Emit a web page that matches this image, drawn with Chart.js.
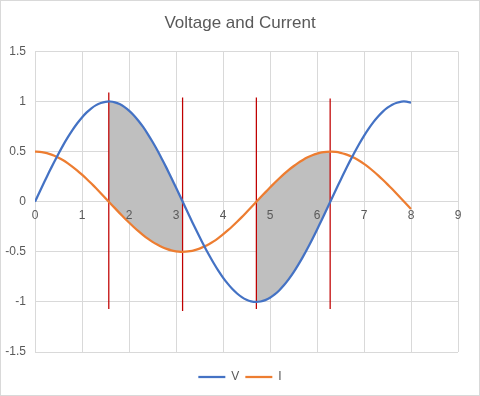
<!DOCTYPE html>
<html>
<head>
<meta charset="utf-8">
<script src="https://cdn.jsdelivr.net/npm/chart.js@4.4.1/dist/chart.umd.min.js"></script>
<style>
  html, body { margin: 0; padding: 0; background: #ffffff; }
  canvas { display: block; }
</style>
</head>
<body>
<canvas id="vcChart" width="480" height="396"></canvas>
<script>
const xValues = [0.0, 0.1, 0.2, 0.3, 0.4, 0.5, 0.6, 0.7, 0.8, 0.9,
    1.0, 1.1, 1.2, 1.3, 1.4, 1.5, 1.6, 1.7, 1.8, 1.9,
    2.0, 2.1, 2.2, 2.3, 2.4, 2.5, 2.6, 2.7, 2.8, 2.9,
    3.0, 3.1, 3.2, 3.3, 3.4, 3.5, 3.6, 3.7, 3.8, 3.9,
    4.0, 4.1, 4.2, 4.3, 4.4, 4.5, 4.6, 4.7, 4.8, 4.9,
    5.0, 5.1, 5.2, 5.3, 5.4, 5.5, 5.6, 5.7, 5.8, 5.9,
    6.0, 6.1, 6.2, 6.3, 6.4, 6.5, 6.6, 6.7, 6.8, 6.9,
    7.0, 7.1, 7.2, 7.3, 7.4, 7.5, 7.6, 7.7, 7.8, 7.9, 8.0];

const voltage = [0.000, 0.100, 0.199, 0.296, 0.389, 0.479, 0.565, 0.644, 0.717, 0.783,
    0.841, 0.891, 0.932, 0.964, 0.985, 0.997, 1.000, 0.992, 0.974, 0.946,
    0.909, 0.863, 0.808, 0.746, 0.675, 0.598, 0.516, 0.427, 0.335, 0.239,
    0.141, 0.042, -0.058, -0.158, -0.256, -0.351, -0.443, -0.530, -0.612, -0.688,
    -0.757, -0.818, -0.872, -0.916, -0.952, -0.978, -0.994, -1.000, -0.996, -0.982,
    -0.959, -0.926, -0.883, -0.832, -0.773, -0.706, -0.631, -0.551, -0.465, -0.374,
    -0.279, -0.182, -0.083, 0.017, 0.117, 0.215, 0.312, 0.405, 0.494, 0.578,
    0.657, 0.729, 0.794, 0.850, 0.899, 0.938, 0.968, 0.988, 0.999, 0.999, 0.989];

const current = [0.500, 0.498, 0.490, 0.478, 0.461, 0.439, 0.413, 0.382, 0.348, 0.311,
    0.270, 0.227, 0.181, 0.134, 0.085, 0.035, -0.015, -0.064, -0.114, -0.162,
    -0.208, -0.252, -0.294, -0.333, -0.369, -0.401, -0.428, -0.452, -0.471, -0.486,
    -0.495, -0.500, -0.499, -0.494, -0.483, -0.468, -0.448, -0.424, -0.396, -0.363,
    -0.327, -0.287, -0.245, -0.200, -0.154, -0.105, -0.056, -0.006, 0.044, 0.093,
    0.142, 0.189, 0.234, 0.277, 0.317, 0.354, 0.388, 0.417, 0.443, 0.464,
    0.480, 0.492, 0.498, 0.500, 0.497, 0.488, 0.475, 0.457, 0.435, 0.408,
    0.377, 0.342, 0.304, 0.263, 0.219, 0.173, 0.126, 0.077, 0.027, -0.023, -0.073];

// red marker lines
const markerX = [1.57, 3.14, 4.71, 6.28];
const markerTop = [1.09, 1.04, 1.04, 1.03];
const markerBottom = [-1.07, -1.09, -1.07, -1.07];

// shaded bands run between pairs of marker lines
const shadeFrom = [1.57, 4.71];
const shadeTo = [3.14, 6.28];
const shadeFromV = [1.00, -1.00];
const shadeFromI = [0.00, 0.00];
const shadeToV = [0.00, 0.00];
const shadeToI = [-0.50, 0.50];

const xTicks = [0, 1, 2, 3, 4, 5, 6, 7, 8, 9];
const yTicks = [-1.5, -1, -0.5, 0, 0.5, 1, 1.5];

const textColor = '#595959';
const gridColor = '#d9d9d9';
const font = 'Liberation Sans, Arial, sans-serif';

function points(xs, ys) {
    return xs.map(function (x, i) { return { x: x, y: ys[i] }; });
}

const datasets = [
    {
        label: 'V',
        data: points(xValues, voltage),
        borderColor: '#4472c4',
        backgroundColor: '#4472c4',
        borderWidth: 2.25,
        pointRadius: 0,
        pointStyle: 'line',
        tension: 0.2,
        fill: false,
        order: 0
    },
    {
        label: 'I',
        data: points(xValues, current),
        borderColor: '#ed7d31',
        backgroundColor: '#ed7d31',
        borderWidth: 2.25,
        pointRadius: 0,
        pointStyle: 'line',
        tension: 0.2,
        fill: false,
        order: 0
    }
];

for (let k = 0; k < shadeFrom.length; k++) {
    const topPts = [{ x: shadeFrom[k], y: shadeFromV[k] }];
    const botPts = [{ x: shadeFrom[k], y: shadeFromI[k] }];
    for (let i = 0; i < xValues.length; i++) {
        if (xValues[i] > shadeFrom[k] && xValues[i] < shadeTo[k]) {
            topPts.push({ x: xValues[i], y: voltage[i] });
            botPts.push({ x: xValues[i], y: current[i] });
        }
    }
    topPts.push({ x: shadeTo[k], y: shadeToV[k] });
    botPts.push({ x: shadeTo[k], y: shadeToI[k] });
    datasets.push({
        label: 'shade',
        data: topPts,
        borderWidth: 0,
        borderColor: 'rgba(0,0,0,0)',
        backgroundColor: '#bfbfbf',
        pointRadius: 0,
        tension: 0.2,
        fill: '+1',
        order: 5
    });
    datasets.push({
        label: 'shade',
        data: botPts,
        borderWidth: 0,
        borderColor: 'rgba(0,0,0,0)',
        pointRadius: 0,
        tension: 0.2,
        fill: false,
        order: 5
    });
}

for (let k = 0; k < markerX.length; k++) {
    datasets.push({
        label: 'marker',
        data: [{ x: markerX[k], y: markerBottom[k] }, { x: markerX[k], y: markerTop[k] }],
        borderColor: '#c00000',
        borderWidth: 1.25,
        pointRadius: 0,
        fill: false,
        order: 2
    });
}

const frame = {
    id: 'frame',
    afterDraw: function (chart) {
        const c = chart.ctx;
        c.save();
        c.strokeStyle = gridColor;
        c.lineWidth = 1;
        c.strokeRect(0.5, 0.5, chart.width - 1, chart.height - 1);
        c.restore();
    }
};

const ctx = document.getElementById('vcChart').getContext('2d');
new Chart(ctx, {
    type: 'line',
    data: { datasets: datasets },
    plugins: [frame],
    options: {
        responsive: false,
        animation: false,
        devicePixelRatio: 1,
        layout: { padding: { left: 0, right: 0, top: 0, bottom: 3 } },
        plugins: {
            title: {
                display: true,
                text: 'Voltage and Current',
                color: textColor,
                font: { family: font, size: 17, weight: 'normal' },
                padding: { top: 13, bottom: 18 }
            },
            legend: {
                position: 'bottom',
                // empty legend title only adds the gap above the legend row
                title: { display: true, text: '', font: { size: 10 }, padding: { top: 1, bottom: 0 } },
                labels: {
                    color: textColor,
                    font: { family: font, size: 12 },
                    usePointStyle: true,
                    pointStyleWidth: 27,
                    padding: 6,
                    filter: function (item) { return item.text === 'V' || item.text === 'I'; }
                }
            },
            tooltip: { enabled: false }
        },
        scales: {
            x: {
                type: 'linear',
                position: { y: 0 },
                min: xTicks[0],
                max: xTicks[xTicks.length - 1],
                afterBuildTicks: function (scale) {
                    scale.ticks = xTicks.map(function (v) { return { value: v }; });
                },
                grid: { color: gridColor, drawTicks: false },
                border: { color: gridColor },
                ticks: {
                    // labels sit above the grey shading, as in the original
                    z: 1,
                    color: textColor,
                    font: { family: font, size: 12 },
                    padding: 7,
                    maxRotation: 0,
                    autoSkip: false,
                    callback: function (v) { return String(v); }
                }
            },
            y: {
                type: 'linear',
                min: yTicks[0],
                max: yTicks[yTicks.length - 1],
                afterBuildTicks: function (scale) {
                    scale.ticks = yTicks.map(function (v) { return { value: v }; });
                },
                afterFit: function (scale) { scale.width = 35; },
                grid: { color: gridColor, drawTicks: false },
                border: { color: gridColor },
                ticks: {
                    color: textColor,
                    font: { family: font, size: 12 },
                    padding: 9,
                    callback: function (v) { return String(v); }
                }
            },
            // empty right axis that only keeps the plot off the right edge
            padRight: {
                type: 'linear',
                axis: 'y',
                position: 'right',
                afterFit: function (scale) { scale.width = 22; },
                grid: { display: false, drawTicks: false },
                border: { display: false },
                ticks: { display: false }
            }
        }
    }
});
</script>
</body>
</html>
